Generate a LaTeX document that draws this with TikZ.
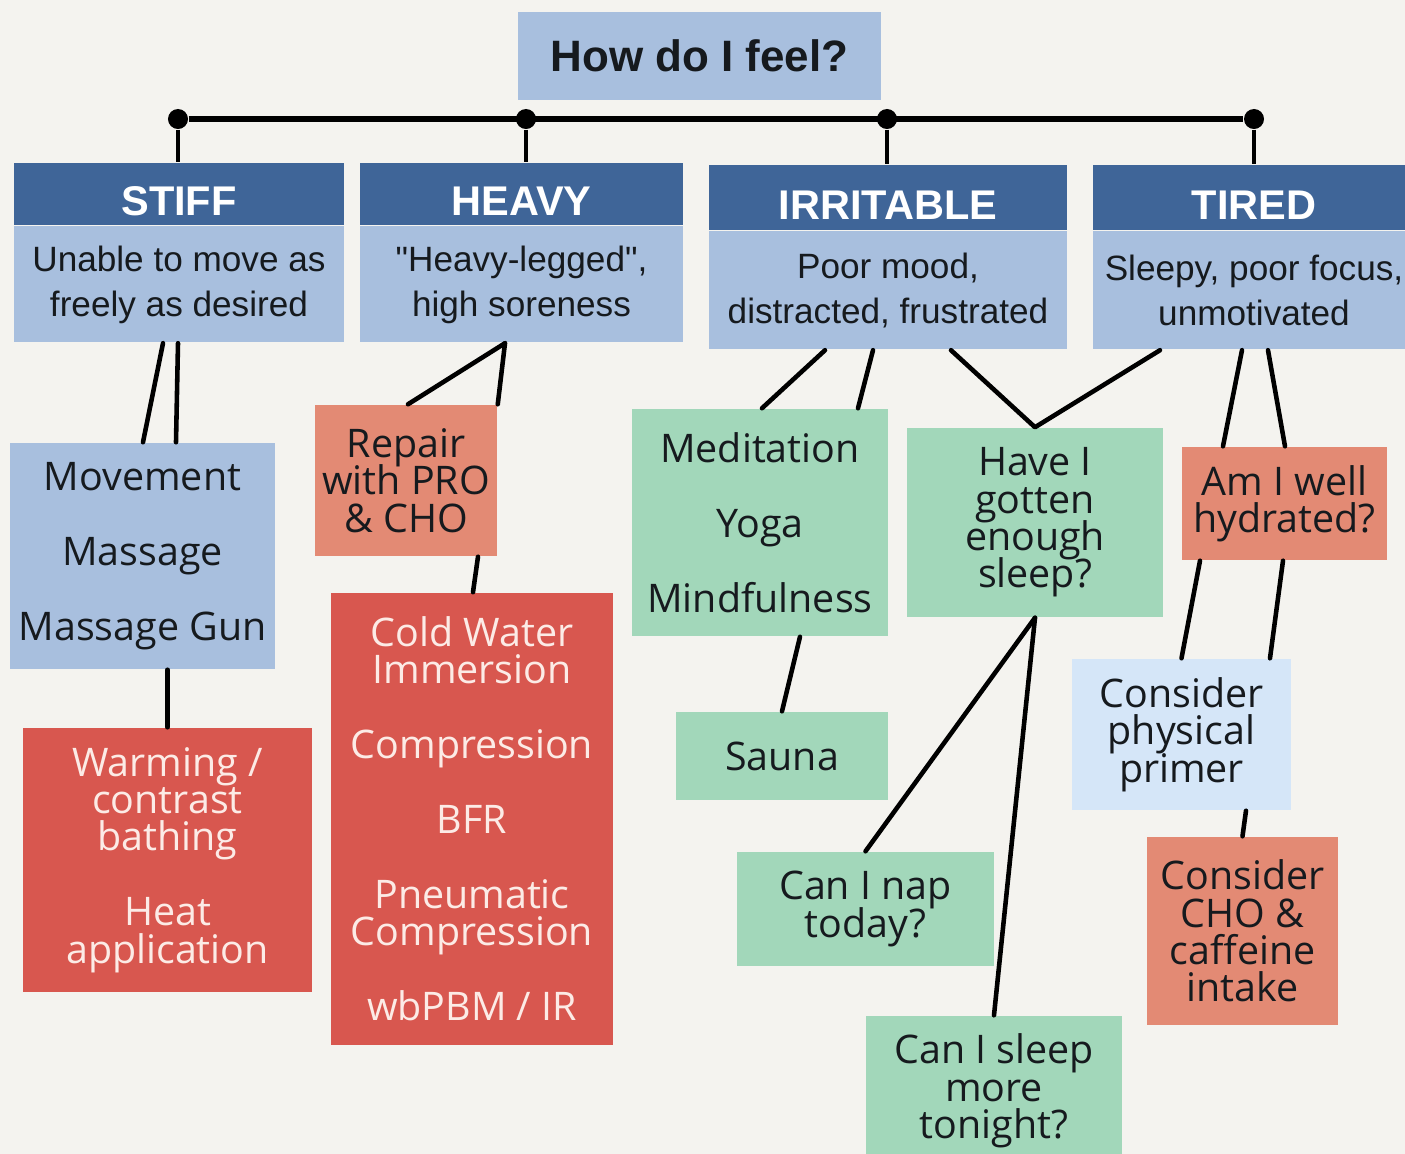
\documentclass[tikz,border=0pt]{standalone}
\usepackage{fontspec}
\setmainfont{Open Sans}
\newfontfamily\hdrfont{Liberation Sans}
\usetikzlibrary{calc,positioning}
\definecolor{bgcol}{HTML}{F4F3EF}
\definecolor{hdrdark}{HTML}{3F6598}
\definecolor{hdrlight}{HTML}{A8BFDE}
\definecolor{mint}{HTML}{A2D7BA}
\definecolor{brick}{HTML}{D8574F}
\definecolor{salmon}{HTML}{E38A74}
\definecolor{pale}{HTML}{D5E6F8}
\definecolor{ink}{HTML}{161A1E}
\definecolor{blush}{HTML}{FCEBE6}
\lineskiplimit=-100pt
\newcommand{\gap}{\\[10.7pt]}
\tikzset{
  box/.style={rectangle, inner sep=0pt, align=center, text=ink,
    font=\fontsize{11.2}{10.6}\selectfont},
  hdr/.style={box, fill=hdrdark, text=white, text height=12.5pt, text depth=0pt,
    font=\hdrfont\bfseries\fontsize{11.8}{12}\selectfont},
  desc/.style={box, fill=hdrlight, anchor=north,
    font=\hdrfont\fontsize{10}{12.8}\selectfont},
  link/.style={line width=1.3pt, line cap=round, line join=round},
  dot/.style={circle, fill=black, inner sep=0pt, minimum size=0.2cm}
}
\begin{document}
\begin{tikzpicture}[x=0.01cm, y=-0.01cm]
\useasboundingbox (0,0) rectangle (1405,1154);
\clip (0,0) rectangle (1405,1154);
\fill[bgcol] (0,0) rectangle (1405,1154); % background

\node[box, fill=hdrlight, minimum width=3.63cm, minimum height=0.88cm,
  font=\hdrfont\bfseries\fontsize{12.5}{14}\selectfont] (feel) at (699.5,56) {How do I feel?}; % root

% feeling headers
\node[hdr, minimum width=3.30cm, minimum height=0.62cm] (stiff) at (179,194) {STIFF};
\node[desc, minimum width=3.30cm, minimum height=1.16cm] (stiffd) at (stiff.south) {Unable to move as\\freely as desired};
\node[hdr, minimum width=3.23cm, minimum height=0.62cm] (heavy) at (521.5,194) {HEAVY};
\node[desc, minimum width=3.23cm, minimum height=1.16cm] (heavyd) at (heavy.south) {"Heavy-legged",\\high soreness};
\node[hdr, minimum width=3.58cm, minimum height=0.65cm] (irr) at (888,197.5) {IRRITABLE};
\node[desc, minimum width=3.58cm, minimum height=1.18cm] (irrd) at (irr.south) {Poor mood,\\distracted, frustrated};
\node[hdr, minimum width=3.22cm, minimum height=0.65cm] (tired) at (1254,197.5) {TIRED};
\node[desc, minimum width=3.22cm, minimum height=1.18cm] (tiredd) at (tired.south) {Sleepy, poor focus,\\unmotivated};

% bar with dots
\node[dot] (d1) at (178,119) {};
\node[dot] (d2) at (526,119) {};
\node[dot] (d3) at (887,119) {};
\node[dot] (d4) at (1254,119) {};
\draw[line width=1.6pt] (d1) -- (d4); % bar
\draw[line width=0.9pt] (d1) -- (d1 |- stiff.north);
\draw[line width=0.9pt] (d2) -- (d2 |- heavy.north);
\draw[line width=0.9pt] (d3) -- (d3 |- irr.north);
\draw[line width=0.9pt] (d4) -- (d4 |- tired.north);

% stiff branch
\node[box, fill=hdrlight, minimum width=2.65cm, minimum height=2.26cm] (move) at (142.5,556) {Movement\gap Massage\gap Massage Gun};
\node[box, fill=brick, text=blush, minimum width=2.89cm, minimum height=2.64cm] (warm) at (167.5,860) {Warming /\\contrast\\bathing\gap Heat\\application};

% heavy branch
\node[box, fill=salmon, minimum width=1.82cm, minimum height=1.51cm] (repair) at (406,480.5) {Repair\\with PRO\\\& CHO};
\node[box, fill=brick, text=blush, minimum width=2.82cm, minimum height=4.52cm] (cold) at (472,819) {Cold Water\\Immersion\gap Compression\gap BFR\gap Pneumatic\\Compression\gap wbPBM / IR};

% irritable branch
\node[box, fill=mint, minimum width=2.56cm, minimum height=2.27cm] (medit) at (760,522.5) {Meditation\gap Yoga\gap Mindfulness};
\node[box, fill=mint, minimum width=2.12cm, minimum height=0.88cm] (sauna) at (782,756) {Sauna};
\node[box, fill=mint, minimum width=2.56cm, minimum height=1.89cm] (sleep) at (1035,522.5) {Have I\\gotten\\enough\\sleep?};
\node[box, fill=mint, minimum width=2.57cm, minimum height=1.14cm] (nap) at (865.5,909) {Can I nap\\today?};
\node[box, fill=mint, minimum width=2.56cm, minimum height=1.50cm] (more) at (994,1091) {Can I sleep\\more\\tonight?};

% tired branch
\node[box, fill=salmon, minimum width=2.05cm, minimum height=1.13cm] (hydr) at (1284.5,503.5) {Am I well\\hydrated?};
\node[box, fill=pale, minimum width=2.19cm, minimum height=1.51cm] (primer) at (1181.5,734.5) {Consider\\physical\\primer};
\node[box, fill=salmon, minimum width=1.91cm, minimum height=1.88cm] (caff) at (1242.5,931) {Consider\\CHO \&\\caffeine\\intake};

% connectors
\draw[link] ($(stiffd.south)+(-16,0)$) -- ($(move.north)+(0.5,0)$);
\draw[link] ($(stiffd.south)+(-1,0)$) -- ($(move.north)+(33.5,0)$);
\draw[link] (warm.north) -- (warm.north |- move.south);
\draw[link] ($(heavyd.south)+(-16.5,0)$) -- ($(repair.north)+(2,0)$);
\draw[link] ($(heavyd.south)+(-16.5,0)$) -- (repair.north east);
\draw[link] ($(repair.south)+(72,0)$) -- ($(cold.north)+(1,0)$);
\draw[link] ($(irrd.south)+(-63,0)$) -- ($(medit.north)+(2,0)$);
\draw[link] ($(irrd.south)+(-15,0)$) -- ($(medit.north)+(98,0)$);
\draw[link] ($(medit.south)+(40,0)$) -- (sauna.north);
\draw[link] ($(irrd.south)+(63,0)$) -- (sleep.north) -- ($(tiredd.south)+(-94,0)$);
\draw[link] (sleep.south) -- (nap.north);
\draw[link] (sleep.south) -- (more.north);
\draw[link] ($(tiredd.south)+(-12,0)$) -- ($(hydr.north)+(-61.5,0)$);
\draw[link] ($(tiredd.south)+(14,0)$) -- ($(hydr.north)+(0.5,0)$);
\draw[link] ($(hydr.south)+(-84.5,0)$) -- (primer.north);
\draw[link] ($(hydr.south)+(-1.5,0)$) -- ($(primer.north)+(88.5,0)$);
\draw[link] ($(primer.south)+(64.5,0)$) -- (caff.north);
\end{tikzpicture}
\end{document}
